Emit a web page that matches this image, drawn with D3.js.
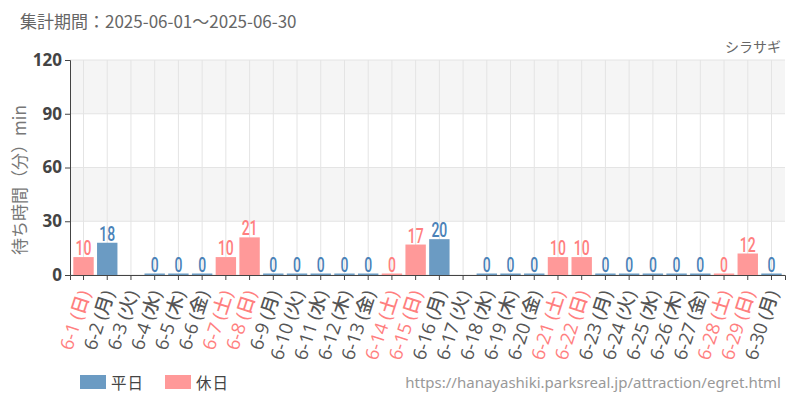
<!DOCTYPE html>
<html><head><meta charset="utf-8">
<script src="https://cdn.jsdelivr.net/npm/d3@7"></script>
<style>
body{margin:0;background:#fff;}
svg{display:block;font-family:"Noto Sans CJK JP","Noto Sans",sans-serif;}
</style></head>
<body><svg id="c" width="800" height="400"></svg>
<script>
const dates = ["6-1","6-2","6-3","6-4","6-5","6-6","6-7","6-8","6-9","6-10","6-11","6-12","6-13","6-14","6-15","6-16","6-17","6-18","6-19","6-20","6-21","6-22","6-23","6-24","6-25","6-26","6-27","6-28","6-29","6-30"];
const weekdays = ["日","月","火","水","木","金","土","日","月","火","水","木","金","土","日","月","火","水","木","金","土","日","月","火","水","木","金","土","日","月"];
const holiday = [1,0,0,0,0,0,1,1,0,0,0,0,0,1,1,0,0,0,0,0,1,1,0,0,0,0,0,1,1,0];
const waits = [10,18,null,0,0,0,10,21,0,0,0,0,0,0,17,20,null,0,0,0,10,10,0,0,0,0,0,0,12,0];
const yTicks = [0,30,60,90,120];

const svg = d3.select("#c");
const M = {l:70, r:785, t:60, b:275};
const x = d3.scaleBand().domain(dates).range([M.l, M.r]).padding(0.14);
const y = d3.scaleLinear().domain([0,120]).range([M.b, M.t]);

const blue = "#6b9bc3", pink = "#ff9999";
const blueTxt = "#4a82b8", pinkTxt = "#ff7f7f";

// alternating bands
for (let i=0;i<yTicks.length-1;i++){
  if (i%2===1) svg.append("rect").attr("x",M.l).attr("width",M.r-M.l)
    .attr("y",y(yTicks[i+1])).attr("height",y(yTicks[i])-y(yTicks[i+1])).attr("fill","#f5f5f5");
}
// grid
svg.append("g").selectAll("line").data(yTicks).join("line")
  .attr("x1",M.l).attr("x2",M.r).attr("y1",d=>y(d)).attr("y2",d=>y(d))
  .attr("stroke","#e4e4e4");
svg.append("g").selectAll("line").data(dates).join("line")
  .attr("x1",d=>x(d)+x.bandwidth()/2).attr("x2",d=>x(d)+x.bandwidth()/2)
  .attr("y1",M.t).attr("y2",M.b).attr("stroke","#e4e4e4");

// bars
const data = dates.map((d,i)=>({d, v:waits[i], h:holiday[i], w:weekdays[i]}));
const shown = data.filter(o=>o.v!==null);
svg.append("g").selectAll("rect").data(shown).join("rect")
  .attr("x",o=>x(o.d)).attr("width",x.bandwidth())
  .attr("y",o=>Math.min(y(o.v), M.b-1.5)).attr("height",o=>Math.max(M.b-y(o.v),1.5))
  .attr("fill",o=>o.h?pink:blue);
svg.append("g").selectAll("text").data(shown).join("text")
  .attr("transform",o=>`translate(${x(o.d)+x.bandwidth()/2},${Math.min(y(o.v),M.b-1.5)-2}) scale(0.7,1)`)
  .attr("text-anchor","middle")
  .attr("font-family","Roboto,sans-serif").attr("font-weight",500)
  .attr("font-size",20).attr("fill",o=>o.h?pinkTxt:blueTxt)
  .text(o=>o.v);

// axes
const yAx = svg.append("g").attr("transform",`translate(${M.l},0)`)
  .call(d3.axisLeft(y).tickValues(yTicks).tickSize(5));
yAx.selectAll("text").attr("font-size",17).attr("font-weight","bold").attr("fill","#444")
  .attr("font-family","'Open Sans',sans-serif");
yAx.selectAll("line,path").attr("stroke","#444");

const xAx = svg.append("g").attr("transform",`translate(0,${M.b})`)
  .call(d3.axisBottom(x).tickSize(5).tickFormat((d,i)=>`${d} (${weekdays[i]})`));
xAx.selectAll("line,path").attr("stroke","#444");
xAx.selectAll("text")
  .attr("font-size",18.5).attr("font-weight",500).attr("fill",(d,i)=>holiday[i]?pinkTxt:"#555")
  .attr("font-family","'Open Sans','Noto Sans CJK JP',sans-serif")
  .attr("text-anchor","end").attr("dy","0.3em").attr("dx","-0.8em").attr("y",7)
  .attr("transform","rotate(-72)");

// y label
svg.append("text").attr("transform","translate(26,180) rotate(-90)")
  .attr("text-anchor","middle").attr("font-size",17).attr("fill","#777")
  .text("待ち時間（分）min");

// title
svg.append("text").attr("x",20).attr("y",28).attr("font-size",17).attr("fill","#666")
  .text("集計期間：2025-06-01～2025-06-30");
svg.append("text").attr("x",781).attr("y",52).attr("text-anchor","end")
  .attr("font-size",14).attr("fill","#666").text("シラサギ");

// legend
const legend = [{t:"平日",c:blue,x:80},{t:"休日",c:pink,x:165}];
const lg = svg.append("g").selectAll("g").data(legend).join("g");
lg.append("rect").attr("x",d=>d.x).attr("y",375).attr("width",26).attr("height",14).attr("fill",d=>d.c);
lg.append("text").attr("x",d=>d.x+31).attr("y",389).attr("font-size",15.5)
  .attr("letter-spacing",1).attr("fill","#444").text(d=>d.t);

svg.append("text").attr("x",781).attr("y",388).attr("text-anchor","end")
  .attr("font-size",15).attr("fill","#999")
  .attr("font-family","'Noto Sans',sans-serif")
  .text("https://hanayashiki.parksreal.jp/attraction/egret.html");
</script></body></html>
